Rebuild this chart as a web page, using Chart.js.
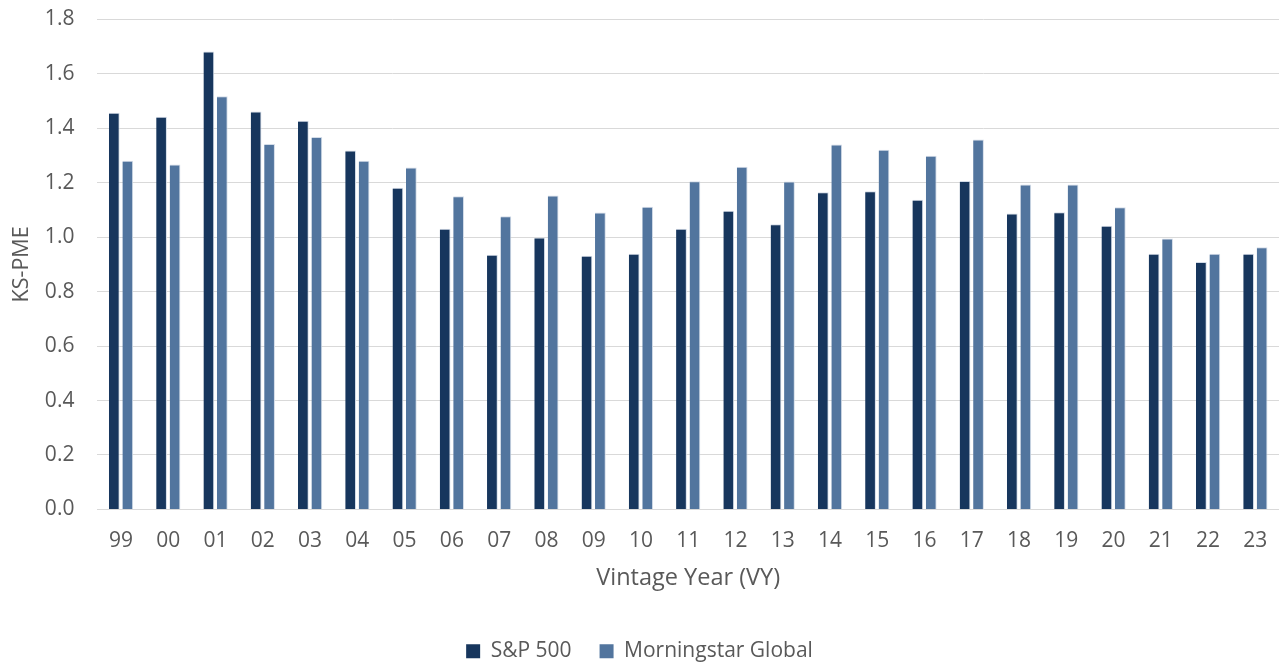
<!DOCTYPE html>
<html>
<head>
<meta charset="utf-8">
<script src="https://cdn.jsdelivr.net/npm/chart.js@4/dist/chart.umd.min.js"></script>
<style>
  html, body { margin: 0; padding: 0; background: #ffffff; }
  #wrap { width: 1280px; height: 662px; position: relative; }
</style>
</head>
<body>
<div id="wrap"><canvas id="chart" width="1280" height="662"></canvas></div>
<script>
// Vintage years (two-digit labels)
const vintageYears = ['99','00','01','02','03','04','05','06','07','08','09','10','11','12','13','14','15','16','17','18','19','20','21','22','23'];

// KS-PME against the S&P 500
const sp500 = [1.457, 1.443, 1.682, 1.462, 1.428, 1.319, 1.182, 1.031, 0.936, 0.999, 0.932, 0.939, 1.031, 1.097, 1.048, 1.165, 1.169, 1.138, 1.207, 1.087, 1.092, 1.042, 0.939, 0.909, 0.939];

// KS-PME against the Morningstar Global index
const morningstarGlobal = [1.281, 1.267, 1.518, 1.343, 1.368, 1.281, 1.256, 1.151, 1.077, 1.153, 1.091, 1.112, 1.206, 1.259, 1.205, 1.341, 1.321, 1.299, 1.359, 1.194, 1.194, 1.110, 0.995, 0.939, 0.963];

// Y-axis tick values
const yTicks = [0, 0.2, 0.4, 0.6, 0.8, 1.0, 1.2, 1.4, 1.6, 1.8];

const FONT = '"Open Sans", "Liberation Sans", sans-serif';
const TEXT = '#595959';

new Chart(document.getElementById('chart'), {
  type: 'bar',
  data: {
    labels: vintageYears,
    datasets: [
      {
        label: 'S&P 500',
        data: sp500,
        backgroundColor: '#17365d',
        borderColor: '#d3dce8',
        borderWidth: { top: 1, right: 1, left: 0, bottom: 0 },
        categoryPercentage: 0.57,
        barPercentage: 0.8
      },
      {
        label: 'Morningstar Global',
        data: morningstarGlobal,
        backgroundColor: '#52759e',
        borderColor: '#d3dce8',
        borderWidth: { top: 1, right: 1, left: 0, bottom: 0 },
        categoryPercentage: 0.57,
        barPercentage: 0.8
      }
    ]
  },
  options: {
    responsive: false,
    animation: false,
    layout: { padding: { top: 19.5, right: 1, left: 0, bottom: -9.7 } },
    plugins: {
      tooltip: { enabled: false },
      legend: {
        position: 'bottom',
        labels: {
          font: { family: FONT, size: 21 },
          color: TEXT,
          boxWidth: 14,
          boxHeight: 14,
          padding: 28,
          useBorderRadius: false,
          generateLabels(chart) {
            // plain filled squares, no outline
            return Chart.defaults.plugins.legend.labels.generateLabels(chart).map(item => {
              item.lineWidth = 0;
              item.strokeStyle = 'rgba(0,0,0,0)';
              return item;
            });
          }
        }
      }
    },
    scales: {
      x: {
        grid: { display: false, drawTicks: false },
        border: { display: false },
        ticks: {
          font: { family: FONT, size: 21 },
          color: TEXT,
          padding: 18.7,
          maxRotation: 0
        },
        title: {
          display: true,
          text: 'Vintage Year (VY)',
          font: { family: FONT, size: 23.5 },
          color: TEXT,
          padding: { top: 0, bottom: 19.9 }
        },
        afterFit(scale) {
          scale.height = 103.3;
          scale.paddingLeft = 0;
          scale.paddingRight = 0;
        }
      },
      y: {
        min: 0,
        max: 1.8,
        afterBuildTicks(scale) {
          scale.ticks = yTicks.map(v => ({ value: v }));
        },
        grid: {
          color: '#d9d9d9',
          lineWidth: 1,
          drawTicks: false
        },
        border: { display: false },
        ticks: {
          font: { family: FONT, size: 21 },
          color: TEXT,
          padding: 23,
          callback: v => Number(v).toFixed(1)
        },
        title: {
          display: true,
          text: 'KS-PME',
          font: { family: FONT, size: 21.5 },
          color: TEXT,
          padding: { top: 9, bottom: 0 }
        },
        afterFit(scale) {
          scale.width = 97.4;
          scale.paddingTop = 0;
          scale.paddingBottom = 0;
        }
      }
    }
  }
});
</script>
</body>
</html>
